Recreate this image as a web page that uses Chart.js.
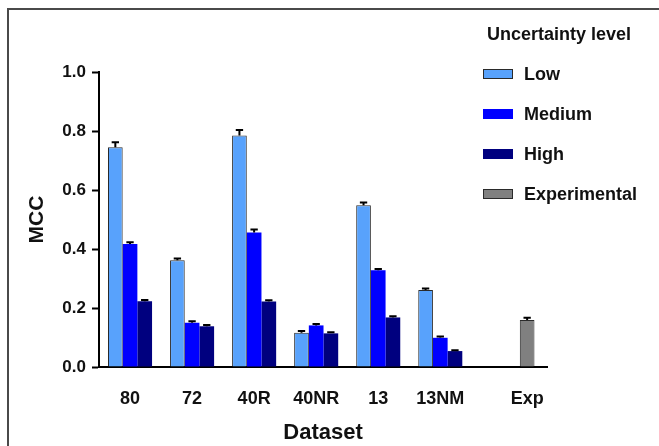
<!DOCTYPE html>
<html>
<head>
<meta charset="utf-8">
<script src="https://cdn.jsdelivr.net/npm/chart.js"></script>
<style>
  html, body { margin: 0; padding: 0; background: #fff; }
  #wrap { position: relative; width: 659px; height: 446px; overflow: hidden; font-family: 'Liberation Sans', Arial, sans-serif; }
  #chart { position: absolute; left: 0; top: 0; }
  #frame { position: absolute; left: 7px; top: 8px; right: -4px; bottom: -4px; border-top: 2px solid #4a4a4a; border-left: 2px solid #4a4a4a; pointer-events: none; }
  #legend { position: absolute; left: 483px; top: 23px; font-weight: bold; font-size: 18px; color: #111; }
  #legend .title { margin-left: 4px; height: 22px; line-height: 22px; margin-bottom: 9px; }
  #legend .item { display: flex; align-items: center; height: 40px; }
  #legend .box { width: 30px; height: 10px; box-sizing: border-box; margin-right: 11px; }
</style>
</head>
<body>
<div id="wrap">
  <canvas id="chart" width="659" height="446"></canvas>
  <div id="legend"></div>
  <div id="frame"></div>
</div>
<script>
// values
const categories = ['80', '72', '40R', '40NR', '13', '13NM', 'Exp']
const xPos = [0, 1, 2, 3, 4, 5, 6.4]   // Exp sits after a wider gap
const lowVals = [0.745, 0.362, 0.785, 0.116, 0.548, 0.261]
const lowErr = [0.017, 0.006, 0.018, 0.006, 0.010, 0.005]
const medVals = [0.417, 0.150, 0.456, 0.141, 0.328, 0.099]
const medErr = [0.006, 0.005, 0.010, 0.005, 0.004, 0.004]
const highVals = [0.223, 0.138, 0.222, 0.114, 0.168, 0.054]
const highErr = [0.004, 0.004, 0.004, 0.004, 0.004, 0.003]
const expVals = [0.159]
const expErr = [0.008]
const expIndex = [6]

const colors = {
  low: '#58A2FC',
  medium: '#0000FF',
  high: '#00007F',
  exp: '#808080',
  edge: '#2a2a2a'
}

const toPoints = (vals, idx) => vals.map((v, i) => ({ x: xPos[idx ? idx[i] : i], y: v }))

Chart.defaults.font.family = "'Liberation Sans', Arial, sans-serif"
Chart.defaults.font.weight = 'bold'
Chart.defaults.color = '#111'

const errorBars = {
  id: 'errorBars',
  afterDatasetsDraw(chart) {
    const ctx = chart.ctx
    const yScale = chart.scales.y
    ctx.save()
    ctx.strokeStyle = '#000'
    ctx.lineWidth = 2
    chart.data.datasets.forEach((ds, i) => {
      const meta = chart.getDatasetMeta(i)
      meta.data.forEach((bar, j) => {
        const top = yScale.getPixelForValue(ds.data[j].y + ds.errors[j])
        const cap = bar.width * 0.25
        ctx.beginPath()
        ctx.moveTo(bar.x, bar.y)
        ctx.lineTo(bar.x, top)
        ctx.moveTo(bar.x - cap, top)
        ctx.lineTo(bar.x + cap, top)
        ctx.stroke()
      })
    })
    ctx.restore()
  }
}

const chart = new Chart(document.getElementById('chart'), {
  type: 'bar',
  data: {
    datasets: [
      { label: 'Low', data: toPoints(lowVals), errors: lowErr, backgroundColor: colors.low, borderColor: colors.edge, borderWidth: 1 },
      { label: 'Medium', data: toPoints(medVals), errors: medErr, backgroundColor: colors.medium, borderWidth: 0 },
      { label: 'High', data: toPoints(highVals), errors: highErr, backgroundColor: colors.high, borderWidth: 0 },
      { label: 'Experimental', data: toPoints(expVals, expIndex), errors: expErr, backgroundColor: colors.exp, borderColor: colors.edge, borderWidth: 1, grouped: false, barPercentage: 0.333 }
    ]
  },
  options: {
    responsive: false,
    animation: false,
    categoryPercentage: 0.71,
    barPercentage: 1,
    layout: { padding: { top: 72, right: 112, bottom: 0, left: 8 } },
    plugins: { legend: { display: false }, tooltip: { enabled: false } },
    scales: {
      x: {
        type: 'linear',
        offset: false,
        min: -0.5,
        max: 6.72,
        bounds: 'data',
        afterBuildTicks: s => { s.ticks = xPos.map(v => ({ value: v })) },
        afterFit: s => { s.height = 79 },
        ticks: { callback: (v, i) => categories[i], font: { size: 18 }, padding: 13, maxRotation: 0, autoSkip: false },
        grid: { display: false, offset: false },
        border: { display: true, color: '#000', width: 2 },
        title: { display: true, text: 'Dataset', font: { size: 22 }, padding: { top: 0, bottom: 0 } }
      },
      y: {
        min: 0,
        max: 1,
        afterFit: s => { s.width = 91 },
        ticks: { stepSize: 0.2, callback: v => v.toFixed(1), font: { size: 17 }, padding: 6 },
        grid: { drawOnChartArea: false, drawTicks: true, tickLength: 7, tickWidth: 2, color: '#000' },
        border: { display: true, color: '#000', width: 2 },
        title: { display: true, text: 'MCC', font: { size: 21 }, padding: { top: 17, bottom: 0 } }
      }
    }
  },
  plugins: [errorBars]
})

// legend built from the datasets
const legend = document.getElementById('legend')
legend.innerHTML = '<div class="title">Uncertainty level</div>'
chart.data.datasets.forEach(ds => {
  const item = document.createElement('div')
  item.className = 'item'
  const box = document.createElement('span')
  box.className = 'box'
  box.style.background = ds.backgroundColor
  if (ds.borderWidth) box.style.border = '1px solid ' + ds.borderColor
  item.appendChild(box)
  item.appendChild(document.createTextNode(ds.label))
  legend.appendChild(item)
})
</script>
</body>
</html>
